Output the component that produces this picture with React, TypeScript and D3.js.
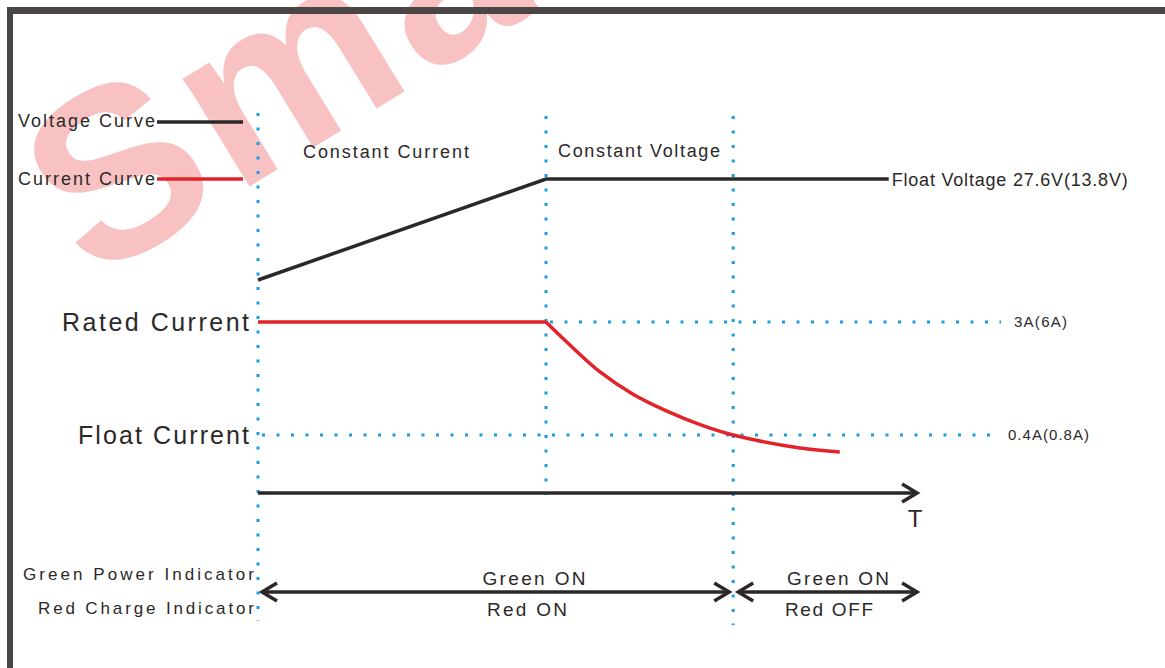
import * as d3 from "d3";

// stage boundaries on the time axis: constant current starts, constant voltage starts, float starts
const stageTimes = [0, 1, 1.65];
const stageLabels = ["Constant Current", "Constant Voltage"];

// voltage curve
const voltageT = [0, 1, 2.19];
const voltageV = [24.0, 27.6, 27.6];

// current curve
const currentT = [0, 1, 1.072, 1.1875, 1.302, 1.42, 1.535, 1.65, 1.882, 2.02];
const currentA = [3, 3, 2.54, 1.85, 1.34, 0.95, 0.64, 0.4, 0.1, 0.01];

// reference current levels
const refCurrents = [3, 0.4];
const refNames = ["Rated Current", "Float Current"];
const refValues = ["3A(6A)", "0.4A(0.8A)"];

const legendNames = ["Voltage Curve", "Current Curve"];
const floatLabel = "Float Voltage 27.6V(13.8V)";

const indicatorNames = ["Green Power Indicator", "Red Charge Indicator"];
const phaseStates = [
  ["Green ON", "Red ON"],
  ["Green ON", "Red OFF"],
];

const W = 1165;
const H = 668;
const FONT = "'Liberation Sans', Arial, sans-serif";
const INK = "#2c2828";
const RED = "#e3232a";
const BLUE = "#1a9de3";

export default function App() {
  const x = d3.scaleLinear().domain([0, 1]).range([258, 546]);
  const yV = d3.scaleLinear().domain([24, 27.6]).range([280, 179]);
  const yI = d3.scaleLinear().domain([0.4, 3]).range([435, 322]);

  const axisEnd = 2.285;
  const refEnd = 2.58;
  const axisY = 493;

  const vLine = d3
    .line<number>()
    .x((t) => x(t))
    .y((_, i) => yV(voltageV[i]));

  // flat constant-current part, then the decaying part as a smooth curve
  const pts = currentT.map((t, i) => [x(t), yI(currentA[i])] as [number, number]);
  const flat = d3.line()(pts.slice(0, 2)) || "";
  const decay = d3.line().curve(d3.curveCatmullRom.alpha(0.5))(pts.slice(1)) || "";

  const chevron = (tx: number, ty: number, dir: number) =>
    `M${tx - dir * 15},${ty - 9}L${tx},${ty}L${tx - dir * 15},${ty + 9}`;

  const dotted = { stroke: BLUE, strokeWidth: 3, strokeDasharray: "3 11.5" };

  // vertical guide extents
  const vTop = [113, 116, 116];
  const vBottom = [621, axisY + 2, 625];

  const rowY = [574, 608];
  const arrowY = 592;
  const phaseSpans = [
    [stageTimes[0], stageTimes[2]],
    [stageTimes[2], axisEnd],
  ];

  return (
    <svg
      width={W}
      height={H}
      style={{ position: "fixed", left: 0, top: 0, background: "#fff" }}
      fontFamily={FONT}
    >
      {/* watermark */}
      <text
        x={92}
        y={283}
        transform="rotate(-31.5 92 283)"
        fontSize={240}
        fontWeight="bold"
        letterSpacing={8}
        fill="#f8c2c2"
      >
        Smart
      </text>

      {/* frame */}
      <rect x={7} y={7} width={W} height={7} fill="#4a4646" />
      <rect x={7} y={7} width={6} height={H} fill="#4a4646" />

      {/* vertical stage guides */}
      {stageTimes.map((t, i) => (
        <line key={"v" + i} x1={x(t)} x2={x(t)} y1={vTop[i]} y2={vBottom[i]} {...dotted} />
      ))}

      {/* reference current guides */}
      {refCurrents.map((c, i) => (
        <line
          key={"h" + i}
          x1={x(i === 0 ? stageTimes[1] : stageTimes[0]) + 4}
          x2={x(refEnd)}
          y1={yI(c)}
          y2={yI(c)}
          {...dotted}
        />
      ))}

      {/* stage labels */}
      <text x={303} y={158} fontSize={18} fill={INK} textLength={166} lengthAdjust="spacing">
        {stageLabels[0]}
      </text>
      <text x={558} y={157} fontSize={18} fill={INK} textLength={162} lengthAdjust="spacing">
        {stageLabels[1]}
      </text>

      {/* legend */}
      {legendNames.map((n, i) => (
        <g key={n}>
          <text
            x={18}
            y={[127, 185][i]}
            fontSize={18}
            fill={INK}
            textLength={137}
            lengthAdjust="spacing"
          >
            {n}
          </text>
          <line
            x1={157}
            x2={243}
            y1={[122, 179][i]}
            y2={[122, 179][i]}
            stroke={i === 0 ? INK : RED}
            strokeWidth={3.5}
          />
        </g>
      ))}

      {/* curves */}
      <path d={vLine(voltageT) || ""} fill="none" stroke={INK} strokeWidth={3.5} />
      <path d={flat} fill="none" stroke={RED} strokeWidth={3.5} />
      <path d={decay} fill="none" stroke={RED} strokeWidth={3.5} />

      <text
        x={x(voltageT[2]) + 3}
        y={yV(27.6) + 7}
        fontSize={18}
        fill={INK}
        textLength={236}
        lengthAdjust="spacing"
      >
        {floatLabel}
      </text>

      {/* current level names and values */}
      {refCurrents.map((c, i) => (
        <g key={"r" + i}>
          <text
            x={249}
            y={yI(c) + 9}
            fontSize={25}
            fill={INK}
            textAnchor="end"
            textLength={[187, 171][i]}
            lengthAdjust="spacing"
          >
            {refNames[i]}
          </text>
          <text
            x={[1014, 1008][i]}
            y={yI(c) + 5}
            fontSize={15}
            fill={INK}
            textLength={[53, 81][i]}
            lengthAdjust="spacing"
          >
            {refValues[i]}
          </text>
        </g>
      ))}

      {/* time axis */}
      <line x1={x(0)} x2={x(axisEnd)} y1={axisY} y2={axisY} stroke={INK} strokeWidth={3.5} />
      <path d={chevron(x(axisEnd) + 1, axisY, 1)} fill="none" stroke={INK} strokeWidth={3.5} />
      <text x={x(axisEnd) - 1} y={527} fontSize={24} fill={INK} textAnchor="middle">
        T
      </text>

      {/* indicator rows */}
      {indicatorNames.map((n, i) => (
        <text
          key={n}
          x={254}
          y={rowY[i] + 6}
          fontSize={17}
          fill={INK}
          textAnchor="end"
          textLength={[231, 216][i]}
          lengthAdjust="spacing"
        >
          {n}
        </text>
      ))}

      {phaseSpans.map(([a, b], i) => {
        const x1 = x(a) + (i === 0 ? 4 : 5);
        const x2 = x(b) - (i === 0 ? 4 : -1);
        const cx = [534, 838][i];
        return (
          <g key={"p" + i}>
            <line x1={x1} x2={x2} y1={arrowY} y2={arrowY} stroke={INK} strokeWidth={3.5} />
            <path d={chevron(x1, arrowY, -1)} fill="none" stroke={INK} strokeWidth={3.5} />
            <path d={chevron(x2, arrowY, 1)} fill="none" stroke={INK} strokeWidth={3.5} />
            <text
              x={cx}
              y={rowY[0] + 11}
              fontSize={19}
              fill={INK}
              textAnchor="middle"
              textLength={[103, 102][i]}
              lengthAdjust="spacing"
            >
              {phaseStates[i][0]}
            </text>
            <text
              x={[527, 829][i]}
              y={rowY[1] + 8}
              fontSize={19}
              fill={INK}
              textAnchor="middle"
              textLength={[80, 88][i]}
              lengthAdjust="spacing"
            >
              {phaseStates[i][1]}
            </text>
          </g>
        );
      })}
    </svg>
  );
}
